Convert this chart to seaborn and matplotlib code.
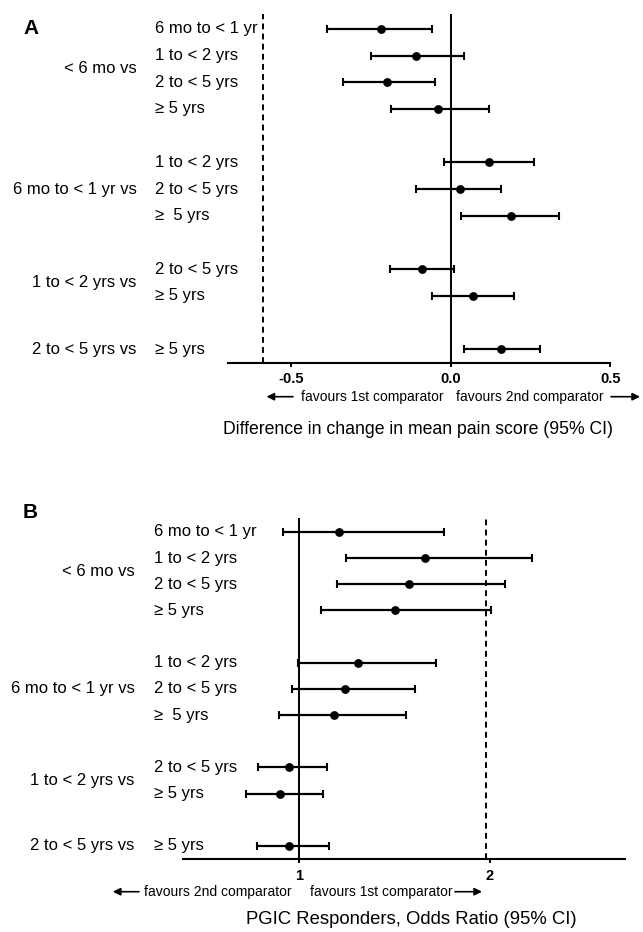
import numpy as np
import pandas as pd
import matplotlib
matplotlib.use("Agg")
import matplotlib.pyplot as plt
import matplotlib.transforms as mtransforms
import seaborn as sns

# ---------------- data ----------------
groups = ["< 6 mo vs", "6 mo to < 1 yr vs", "1 to < 2 yrs vs", "2 to < 5 yrs vs"]
row_group = [0, 0, 0, 0, 1, 1, 1, 2, 2, 3]
comparisons = ["6 mo to < 1 yr", "1 to < 2 yrs", "2 to < 5 yrs", "\u2265 5 yrs",
               "1 to < 2 yrs", "2 to < 5 yrs", "\u2265  5 yrs",
               "2 to < 5 yrs", "\u2265 5 yrs", "\u2265 5 yrs"]

a_est = [-0.218, -0.109, -0.200, -0.040, 0.121, 0.030, 0.190, -0.090, 0.071, 0.159]
a_lo = [-0.389, -0.251, -0.338, -0.189, -0.021, -0.108, 0.031, -0.190, -0.060, 0.040]
a_hi = [-0.060, 0.041, -0.050, 0.120, 0.260, 0.159, 0.339, 0.010, 0.199, 0.280]
a_ticks = [-0.5, 0.0, 0.5]
a_ticklabels = ["-0.5", "0.0", "0.5"]
a_ref = 0.0
a_threshold = -0.59
a_xlabel = "Difference in change in mean pain score (95% CI)"
a_left_note = "favours 1st comparator"
a_right_note = "favours 2nd comparator"

b_est = [1.208, 1.661, 1.577, 1.500, 1.309, 1.238, 1.180, 0.948, 0.897, 0.948]
b_lo = [0.914, 1.245, 1.197, 1.114, 0.991, 0.959, 0.893, 0.783, 0.719, 0.777]
b_hi = [1.758, 2.219, 2.077, 2.006, 1.719, 1.607, 1.560, 1.146, 1.124, 1.155]
b_ticks = [1, 2]
b_ticklabels = ["1", "2"]
b_ref = 1.0
b_threshold = 1.98
b_xlabel = "PGIC Responders, Odds Ratio (95% CI)"
b_left_note = "favours 2nd comparator"
b_right_note = "favours 1st comparator"

# ---------------- style ----------------
sns.set_theme(style="white")
plt.rcParams["font.family"] = ["Liberation Sans", "DejaVu Sans"]

W, H = 643, 932
fig = plt.figure(figsize=(W / 100, H / 100), dpi=100)


def fx(px):
    return px / W


def fy(py):
    return 1 - py / H


positions = [i + g for i, g in enumerate(row_group)]


def panel(box, est, lo, hi, xlim, ticks, ticklabels, ref, thr, ylim,
          group_x, comp_x, letter, letter_y, xlabel, xlabel_pos, xlabel_size,
          note_y, left_arrow, left_text_x, left_note, right_text_x,
          right_note, right_arrow):
    l, t, r, b = box
    ax = fig.add_axes([fx(l), fy(b), fx(r) - fx(l), fy(t) - fy(b)])
    df = pd.DataFrame({"est": est, "lo": lo, "hi": hi, "pos": positions})
    ax.errorbar(df["est"], df["pos"],
                xerr=[df["est"] - df["lo"], df["hi"] - df["est"]],
                fmt="none", ecolor="black", elinewidth=1.6,
                capsize=3, capthick=1.5, zorder=3)
    sns.scatterplot(data=df, x="est", y="pos", color="black", s=40,
                    edgecolor="black", linewidth=0, ax=ax, zorder=4,
                    legend=False)
    ax.axvline(ref, color="black", lw=1.4, zorder=2)
    ax.axvline(thr, color="black", lw=1.4, ls=(0, (3, 2.2)), zorder=2)
    ax.set_xlim(*xlim)
    ax.set_ylim(*ylim)
    ax.set_xticks(ticks)
    ax.set_xticklabels(ticklabels, fontweight="bold", fontsize=10.5)
    ax.set_yticks([])
    ax.set_xlabel("")
    ax.set_ylabel("")
    for s in ["top", "right", "left"]:
        ax.spines[s].set_visible(False)
    ax.spines["bottom"].set_linewidth(1.5)
    ax.spines["bottom"].set_color("black")
    ax.tick_params(axis="x", direction="out", length=3, width=1.4,
                   color="black", pad=4, labelcolor="black", bottom=True)
    ax.set_facecolor("none")
    ax.patch.set_alpha(0)

    trans = mtransforms.blended_transform_factory(fig.transFigure, ax.transData)
    for p, c in zip(positions, comparisons):
        ax.text(fx(comp_x), p, c, transform=trans, ha="left", va="center",
                fontsize=12, color="black", clip_on=False)
    for g, name in enumerate(groups):
        ps = [p for p, rg in zip(positions, row_group) if rg == g]
        ax.text(fx(group_x), np.mean(ps), name, transform=trans, ha="right",
                va="center", fontsize=12, color="black", clip_on=False)

    fig.text(fx(23), fy(letter_y), letter, fontsize=15, fontweight="bold",
             ha="left", va="center", color="black")
    fig.text(fx(xlabel_pos[0]), fy(xlabel_pos[1]), xlabel, fontsize=xlabel_size,
             ha="center", va="center", color="black")
    # arrows and notes
    ap = dict(arrowstyle="-|>", color="black", lw=1.2, mutation_scale=11,
              shrinkA=0, shrinkB=0)
    fig.add_artist(matplotlib.patches.FancyArrowPatch(
        (fx(left_arrow[1]), fy(note_y)), (fx(left_arrow[0]), fy(note_y)),
        transform=fig.transFigure, **ap))
    fig.add_artist(matplotlib.patches.FancyArrowPatch(
        (fx(right_arrow[0]), fy(note_y)), (fx(right_arrow[1]), fy(note_y)),
        transform=fig.transFigure, **ap))
    fig.text(fx(left_text_x), fy(note_y), left_note, fontsize=10,
             ha="left", va="center", color="black")
    fig.text(fx(right_text_x), fy(note_y), right_note, fontsize=10,
             ha="left", va="center", color="black")
    return ax


panel(box=(227.6, 14, 610.2, 362.5), est=a_est, lo=a_lo, hi=a_hi,
      xlim=(-0.7, 0.5), ticks=a_ticks, ticklabels=a_ticklabels,
      ref=a_ref, thr=a_threshold, ylim=(12.5, -0.56),
      group_x=136.6, comp_x=155, letter="A", letter_y=29,
      xlabel=a_xlabel, xlabel_pos=(418, 430), xlabel_size=12.7, note_y=396.7,
      left_arrow=(266.5, 293), left_text_x=301, left_note=a_left_note,
      right_text_x=456, right_note=a_right_note, right_arrow=(611, 640))

panel(box=(183, 518, 625.4, 859), est=b_est, lo=b_lo, hi=b_hi,
      xlim=(0.39, 2.71), ticks=b_ticks, ticklabels=b_ticklabels,
      ref=b_ref, thr=b_threshold, ylim=(12.5, -0.53),
      group_x=134.5, comp_x=153.8, letter="B", letter_y=513,
      xlabel=b_xlabel, xlabel_pos=(411, 920), xlabel_size=13.3, note_y=891.7,
      left_arrow=(112.8, 139), left_text_x=143.5, left_note=b_left_note,
      right_text_x=309.6, right_note=b_right_note, right_arrow=(455, 482))

fig.savefig("out.png", dpi=100, facecolor="white")
